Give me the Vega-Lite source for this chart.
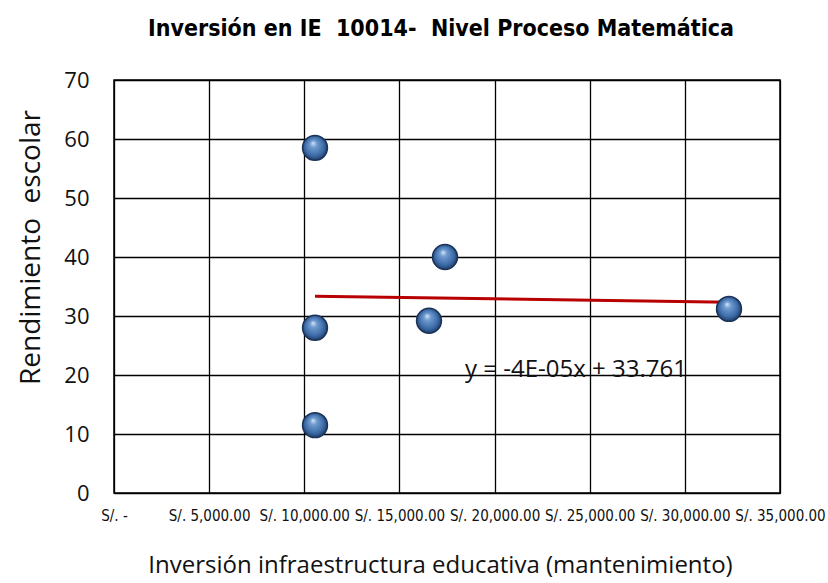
{
  "$schema": "https://vega.github.io/schema/vega-lite/v6.json",
  "autosize": {"type": "none"},
  "padding": {"left": 114, "top": 80, "right": 48, "bottom": 90},
  "width": 666,
  "height": 413,
  "background": "white",
  "title": {
    "text": "Inversión en IE\u00a0 10014-\u00a0 Nivel Proceso Matemática",
    "font": "DejaVu Sans Condensed, Liberation Sans, sans-serif",
    "fontSize": 23,
    "fontWeight": "bold",
    "color": "black",
    "anchor": "middle",
    "offset": 28,
    "dx": -6
  },
  "config": {
    "view": {"stroke": "black", "strokeWidth": 1.5},
    "axis": {"gridColor": "black", "gridOpacity": 1, "gridWidth": 1.3, "domainColor": "black", "ticks": false, "labelColor": "#111", "titleColor": "#111", "titleFontWeight": "normal"}
  },
  "datasets": {
    "pts": [
      {"inversion": 10563, "rendimiento": 58.5},
      {"inversion": 10563, "rendimiento": 28.0},
      {"inversion": 10563, "rendimiento": 11.5},
      {"inversion": 16554, "rendimiento": 29.2},
      {"inversion": 17395, "rendimiento": 40.0},
      {"inversion": 32320, "rendimiento": 31.2}
    ],
    "eq": [
      {"inversion": 18450, "rendimiento": 20.8, "label": "y = -4E-05x + 33.761"}
    ]
  },
  "layer": [
    {
      "data": {"name": "pts"},
      "transform": [{"regression": "rendimiento", "on": "inversion"}],
      "mark": {"type": "line", "color": "#b80000", "strokeWidth": 3},
      "encoding": {
        "x": {"field": "inversion", "type": "quantitative"},
        "y": {"field": "rendimiento", "type": "quantitative"}
      }
    },
    {
      "data": {"name": "eq"},
      "mark": {"type": "text", "align": "left", "baseline": "middle", "font": "Open Sans", "fontSize": 24, "color": "#111"},
      "encoding": {
        "x": {"field": "inversion", "type": "quantitative"},
        "y": {"field": "rendimiento", "type": "quantitative"},
        "text": {"field": "label"}
      }
    },
    {
      "data": {"name": "pts"},
      "mark": {
        "type": "point",
        "shape": "circle",
        "filled": true,
        "size": 620,
        "opacity": 1,
        "stroke": "#1c3357",
        "strokeWidth": 1.5,
        "fill": {
          "gradient": "radial",
          "x1": 0.42, "y1": 0.3, "r1": 0,
          "x2": 0.5, "y2": 0.5, "r2": 0.55,
          "stops": [
            {"offset": 0, "color": "#dbe8f7"},
            {"offset": 0.25, "color": "#6f9bd0"},
            {"offset": 0.7, "color": "#3b6aa6"},
            {"offset": 1, "color": "#16305a"}
          ]
        }
      },
      "encoding": {
        "x": {
          "field": "inversion", "type": "quantitative",
          "scale": {"domain": [0, 35000], "nice": false},
          "axis": {
            "values": [0, 5000, 10000, 15000, 20000, 25000, 30000, 35000],
            "labelExpr": "datum.value == 0 ? 'S/. -' : 'S/. ' + format(datum.value, ',.2f')",
            "labelFont": "DejaVu Sans Condensed, Liberation Sans, sans-serif",
            "labelFontSize": 15,
            "labelPadding": 15,
            "labelOverlap": false,
            "labelFlush": false,
            "grid": true,
            "title": "Inversión infraestructura educativa (mantenimiento)",
            "titleFont": "Open Sans",
            "titleFontSize": 24,
            "titlePadding": 30,
            "titleX": 326
          }
        },
        "y": {
          "field": "rendimiento", "type": "quantitative",
          "scale": {"domain": [0, 70], "nice": false},
          "axis": {
            "values": [0, 10, 20, 30, 40, 50, 60, 70],
            "labelFont": "Open Sans",
            "labelFontSize": 22,
            "labelPadding": 25,
            "grid": true,
            "title": "Rendimiento\u00a0 escolar",
            "titleFont": "Open Sans",
            "titleFontSize": 28,
            "titlePadding": 18,
            "titleY": 167
          }
        }
      }
    }
  ]
}
